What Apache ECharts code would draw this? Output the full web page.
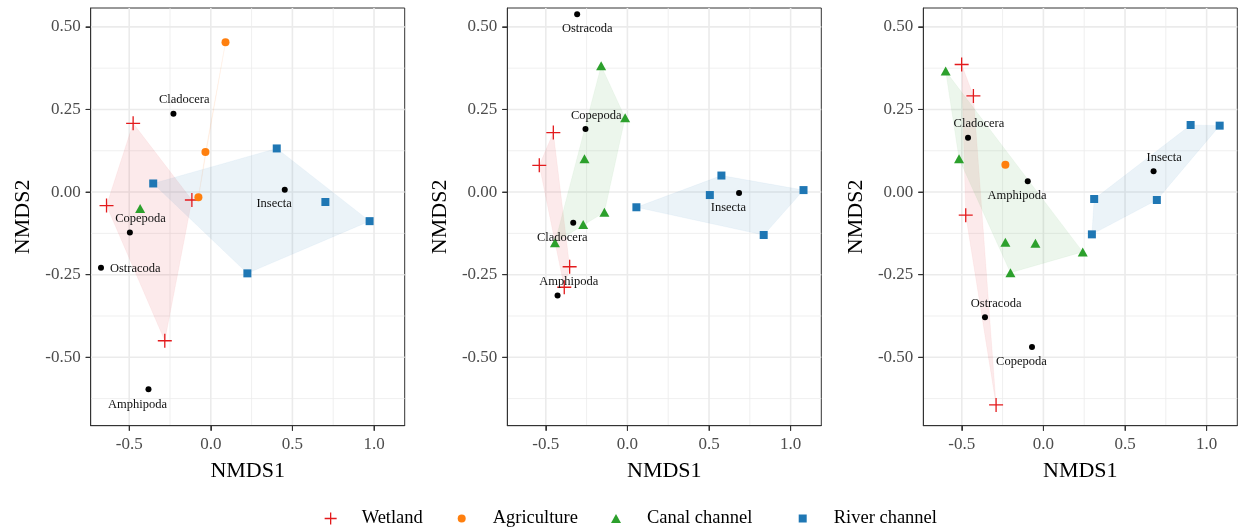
<!DOCTYPE html>
<html>
<head>
<meta charset="utf-8">
<title>NMDS</title>
<script src="https://cdn.jsdelivr.net/npm/echarts@6/dist/echarts.min.js"></script>
<style>
  html, body { margin: 0; padding: 0; background: #fff; }
  #chart { width: 1244px; height: 531px; }
</style>
</head>
<body>
<div id="chart"></div>
<script type="text/javascript">
// one entry per panel (left, middle, right)
var wetland = [
  [[-0.476, 0.208], [-0.639, -0.041], [-0.116, -0.024], [-0.282, -0.450]],
  [[-0.454, 0.180], [-0.540, 0.081], [-0.354, -0.226], [-0.387, -0.288]],
  [[-0.501, 0.386], [-0.429, 0.291], [-0.476, -0.070], [-0.290, -0.644]]
];
var agriculture = [
  [[0.090, 0.453], [-0.033, 0.121], [-0.076, -0.016]],
  [],
  [[-0.233, 0.083]]
];
var canal = [
  [[-0.433, -0.050]],
  [[-0.161, 0.382], [-0.014, 0.225], [-0.263, 0.101], [-0.141, -0.061], [-0.271, -0.098], [-0.444, -0.153]],
  [[-0.599, 0.366], [-0.517, 0.101], [-0.233, -0.152], [-0.049, -0.155], [-0.202, -0.244], [0.241, -0.181]]
];
var river = [
  [[-0.353, 0.026], [0.404, 0.132], [0.702, -0.030], [0.973, -0.088], [0.224, -0.246]],
  [[0.055, -0.046], [0.505, -0.009], [0.576, 0.050], [1.079, 0.006], [0.835, -0.130]],
  [[0.902, 0.203], [1.080, 0.201], [0.311, -0.021], [0.695, -0.024], [0.297, -0.128]]
];
var speciesNames = [
  ['Cladocera', 'Copepoda', 'Ostracoda', 'Insecta', 'Amphipoda'],
  ['Ostracoda', 'Copepoda', 'Insecta', 'Cladocera', 'Amphipoda'],
  ['Cladocera', 'Amphipoda', 'Insecta', 'Ostracoda', 'Copepoda']
];
var speciesPts = [
  [[-0.229, 0.237], [-0.496, -0.122], [-0.673, -0.229], [0.453, 0.007], [-0.382, -0.597]],
  [[-0.308, 0.538], [-0.257, 0.191], [0.684, -0.003], [-0.332, -0.093], [-0.428, -0.313]],
  [[-0.462, 0.164], [-0.096, 0.033], [0.675, 0.063], [-0.358, -0.379], [-0.070, -0.469]]
];
var labelPts = [
  [[-0.163, 0.278], [-0.431, -0.080], [-0.463, -0.231], [0.388, -0.036], [-0.449, -0.642]],
  [[-0.246, 0.493], [-0.191, 0.232], [0.619, -0.048], [-0.399, -0.137], [-0.360, -0.272]],
  [[-0.395, 0.206], [-0.162, -0.012], [0.740, 0.105], [-0.290, -0.337], [-0.135, -0.513]]
];
var xTicks = [-0.5, 0, 0.5, 1.0];
var xMinor = [-0.25, 0.25, 0.75];
var yTicks = [-0.5, -0.25, 0, 0.25, 0.5];
var yMinor = [-0.625, -0.375, -0.125, 0.125, 0.375];

var serif = '"Liberation Serif", "DejaVu Serif", serif';
var groupNames = ['Wetland', 'Agriculture', 'Canal channel', 'River channel'];
var groupData = [wetland, agriculture, canal, river];
var colors = ['#E31A1C', '#FF7F0E', '#2CA02C', '#1F77B4'];
var fills = ['rgba(227,26,28,0.09)', 'rgba(255,127,14,0.09)', 'rgba(44,160,44,0.09)', 'rgba(31,119,180,0.09)'];
var crossPath = 'path://M5,0L5,10M0,5L10,5';
var symbols = [crossPath, 'circle', 'triangle', 'rect'];
var sizes = [14, 8, [10, 9], 8];
var gridLefts = [90.7, 507.3, 923.3];

function hull(pts) {
  if (pts.length < 3) return pts.slice();
  var p = pts.slice().sort(function (a, b) { return a[0] - b[0] || a[1] - b[1]; });
  function cross(o, a, b) { return (a[0] - o[0]) * (b[1] - o[1]) - (a[1] - o[1]) * (b[0] - o[0]); }
  var lower = [], upper = [];
  for (var i = 0; i < p.length; i++) {
    while (lower.length >= 2 && cross(lower[lower.length - 2], lower[lower.length - 1], p[i]) <= 0) lower.pop();
    lower.push(p[i]);
  }
  for (var j = p.length - 1; j >= 0; j--) {
    while (upper.length >= 2 && cross(upper[upper.length - 2], upper[upper.length - 1], p[j]) <= 0) upper.pop();
    upper.push(p[j]);
  }
  upper.pop(); lower.pop();
  return lower.concat(upper);
}

var grids = [], xAxes = [], yAxes = [], series = [];
for (var k = 0; k < 3; k++) {
  grids.push({ left: gridLefts[k], top: 8, width: 314, height: 417.7,
    show: true, borderColor: '#333', borderWidth: 1, backgroundColor: '#fff' });
  xAxes.push({
    gridIndex: k, type: 'value', min: -0.736, max: 1.188, position: 'bottom',
    axisLine: { show: true, onZero: false, lineStyle: { color: '#333', width: 1 } },
    axisTick: { show: true, customValues: xTicks, length: 5, lineStyle: { color: '#333' } },
    axisLabel: { customValues: xTicks, formatter: function (v) { return v.toFixed(1); },
      fontSize: 17, color: '#4d4d4d', fontFamily: serif, margin: 10 },
    splitLine: { show: false },
    name: 'NMDS1', nameLocation: 'middle', nameGap: 35,
    nameTextStyle: { fontSize: 22, color: '#000', fontFamily: serif }
  });
  yAxes.push({
    gridIndex: k, type: 'value', min: -0.707, max: 0.557, position: 'left',
    axisLine: { show: true, onZero: false, lineStyle: { color: '#333', width: 1 } },
    axisTick: { show: true, customValues: yTicks, length: 5, lineStyle: { color: '#333' } },
    axisLabel: { customValues: yTicks, formatter: function (v) { return v.toFixed(2); },
      fontSize: 17, color: '#4d4d4d', fontFamily: serif, margin: 10 },
    splitLine: { show: false },
    name: 'NMDS2', nameLocation: 'middle', nameGap: 56,
    nameTextStyle: { fontSize: 22, color: '#000', fontFamily: serif }
  });

  // panel grid lines and outer tick marks
  series.push({
    type: 'custom', xAxisIndex: k, yAxisIndex: k, z: 0, silent: true, clip: false,
    data: [[0, 0]],
    renderItem: function (params, api) {
      var cs = params.coordSys, kids = [];
      var bottom = cs.y + cs.height;
      function seg(x1, y1, x2, y2, c, w) {
        kids.push({ type: 'line', shape: { x1: x1, y1: y1, x2: x2, y2: y2 },
          style: { stroke: c, lineWidth: w } });
      }
      xMinor.forEach(function (v) { var x = api.coord([v, 0])[0]; seg(x, cs.y, x, bottom, '#ebebeb', 0.8); });
      yMinor.forEach(function (v) { var y = api.coord([0, v])[1]; seg(cs.x, y, cs.x + cs.width, y, '#ebebeb', 0.8); });
      xTicks.forEach(function (v) {
        var x = api.coord([v, 0])[0];
        seg(x, cs.y, x, bottom, '#ebebeb', 1.6);
        seg(x, bottom, x, bottom + 5, '#333', 1.1);
      });
      yTicks.forEach(function (v) {
        var y = api.coord([0, v])[1];
        seg(cs.x, y, cs.x + cs.width, y, '#ebebeb', 1.6);
        seg(cs.x - 5, y, cs.x, y, '#333', 1.1);
      });
      return { type: 'group', children: kids };
    }
  });

  // convex hulls
  for (var g = 0; g < 4; g++) {
    (function (pts, fill) {
      if (pts.length === 0) return;
      series.push({
        type: 'custom', xAxisIndex: k, yAxisIndex: k, z: 1, silent: true,
        data: [[0, 0]],
        renderItem: function (params, api) {
          return { type: 'polygon', shape: { points: pts.map(function (p) { return api.coord(p); }) },
            style: { fill: fill, stroke: fill, lineWidth: 0.5 } };
        }
      });
    })(hull(groupData[g][k]), fills[g]);
  }

  // group points
  for (var g2 = 0; g2 < 4; g2++) {
    series.push({
      type: 'scatter', name: groupNames[g2], xAxisIndex: k, yAxisIndex: k, z: 3,
      symbol: symbols[g2], symbolSize: sizes[g2],
      itemStyle: g2 === 0 ? { color: 'transparent', borderColor: colors[0], borderWidth: 1.3, opacity: 1 }
                          : { color: colors[g2], opacity: 1 },
      data: groupData[g2][k]
    });
  }

  // species scores
  series.push({
    type: 'scatter', xAxisIndex: k, yAxisIndex: k, z: 4, silent: true,
    symbol: 'circle', symbolSize: 6, itemStyle: { color: '#000', opacity: 1 },
    data: speciesPts[k]
  });
  (function (names, pos) {
    series.push({
      type: 'custom', xAxisIndex: k, yAxisIndex: k, z: 5, silent: true,
      data: pos,
      renderItem: function (params, api) {
        var c = api.coord([api.value(0), api.value(1)]);
        return { type: 'text', x: c[0], y: c[1],
          style: { text: names[params.dataIndex], fill: '#111', fontSize: 12.5, fontFamily: serif,
            align: 'center', verticalAlign: 'middle' } };
      }
    });
  })(speciesNames[k], labelPts[k]);
}

var legendCenters = [330, 461.7, 616, 802.7];
var legendW = [12, 8, 10, 8];
var legendH = [12, 8, 9, 8];
var legends = groupNames.map(function (n, i) {
  return {
    data: [{ name: n, icon: symbols[i] }],
    left: legendCenters[i] - legendW[i] / 2, top: 509,
    itemWidth: legendW[i], itemHeight: legendH[i], padding: 0,
    selectedMode: false,
    itemStyle: i === 0 ? { borderWidth: 1.3, opacity: 1 } : { borderWidth: 0, opacity: 1 },
    textStyle: { fontSize: 18.5, fontFamily: serif, color: '#000',
      padding: [0, 0, 0, 31 - legendW[i] / 2 - 5] }
  };
});

var chart = echarts.init(document.getElementById('chart'), null, { renderer: 'canvas' });
chart.setOption({
  animation: false,
  backgroundColor: '#fff',
  grid: grids,
  xAxis: xAxes,
  yAxis: yAxes,
  legend: legends,
  series: series
});
</script>
</body>
</html>
